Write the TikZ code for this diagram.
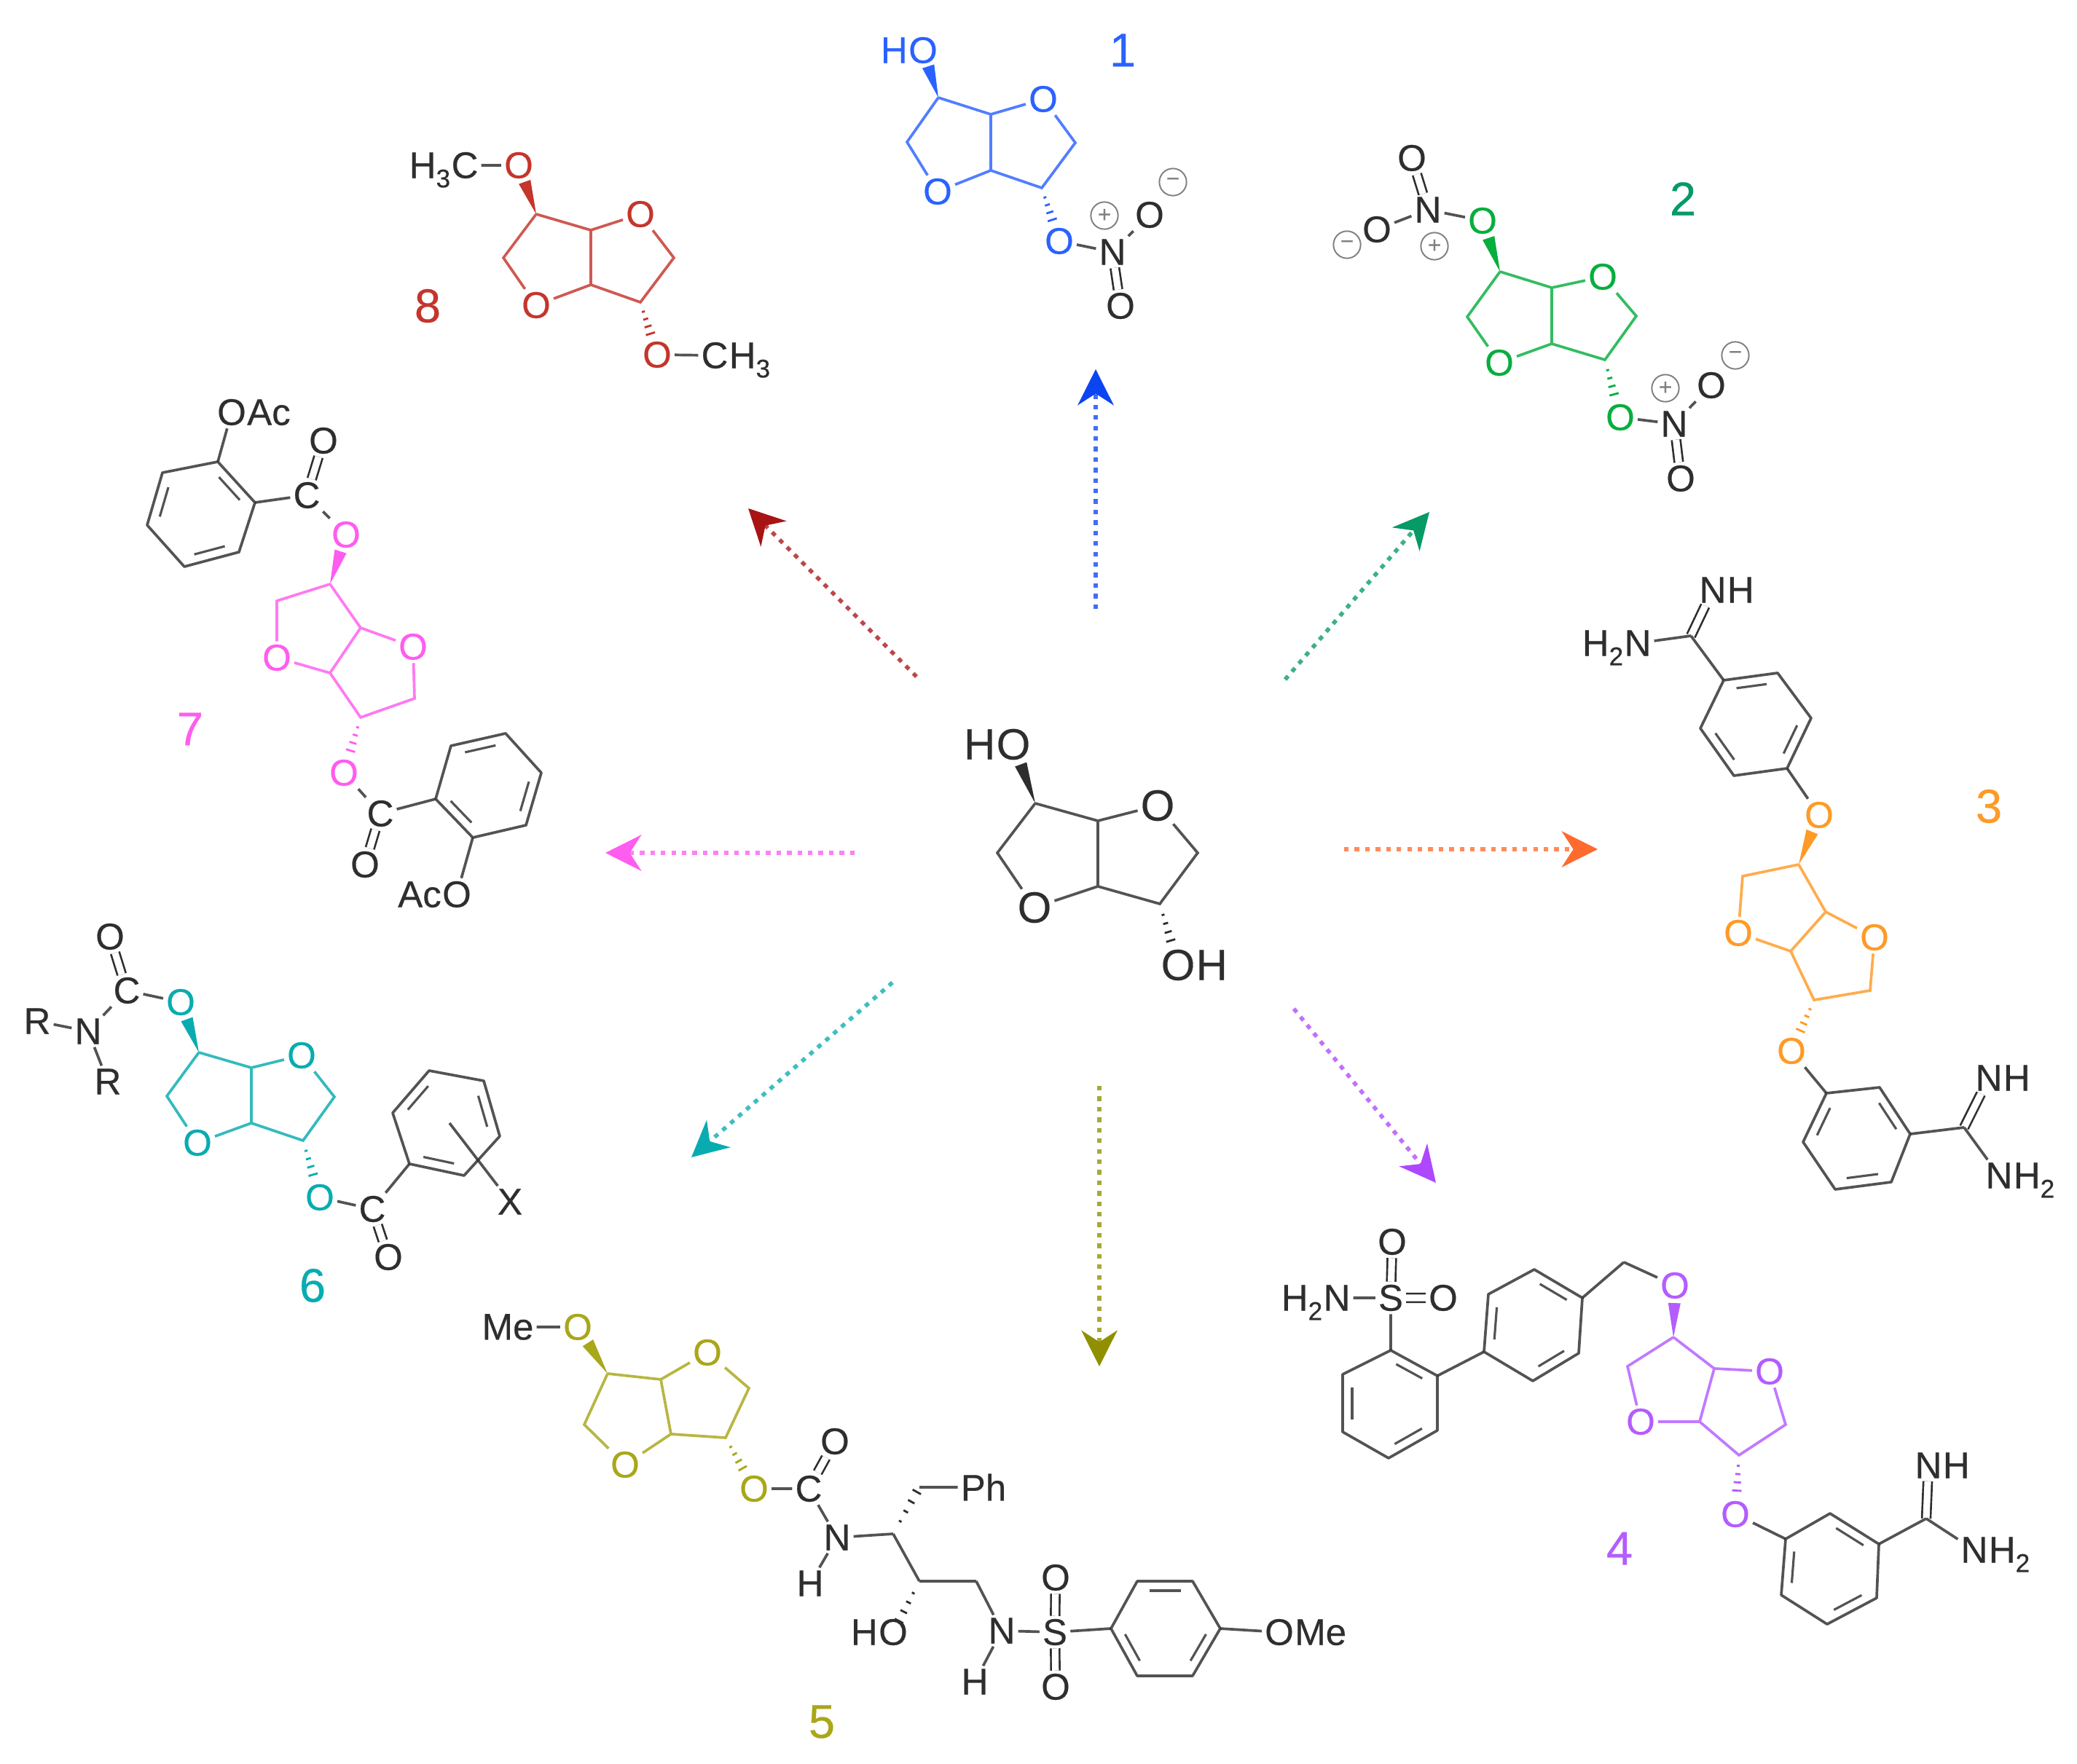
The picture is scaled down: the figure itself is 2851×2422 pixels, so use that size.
\documentclass[tikz,border=0pt]{standalone}
\usepackage{fontspec}
\setmainfont{Liberation Sans}[FakeBold=0.35]
\usetikzlibrary{calc,arrows.meta}
\definecolor{bk}{HTML}{2E2E2E}
\definecolor{mblue}{HTML}{2A62FF}
\definecolor{ablue}{HTML}{0B45F0}
\definecolor{mgreen}{HTML}{08AE3E}
\definecolor{agreen}{HTML}{069A66}
\definecolor{morange}{HTML}{FF9A26}
\definecolor{aorange}{HTML}{FF6A2E}
\definecolor{mpurple}{HTML}{B45CFF}
\definecolor{apurple}{HTML}{AE48FF}
\definecolor{molive}{HTML}{A9A71A}
\definecolor{aolive}{HTML}{8F8F00}
\definecolor{mteal}{HTML}{08ACB0}
\definecolor{mmag}{HTML}{FF5CF0}
\definecolor{mred}{HTML}{C4352C}
\definecolor{ared}{HTML}{A81414}
\newcommand{\afont}{\fontsize{14.5}{14.5}\selectfont}
\newcommand{\chsub}[1]{\raisebox{-.25em}{\fontsize{10}{10}\selectfont #1}}
\tikzset{
 atom/.style={inner sep=1pt,font=\afont},
 tail/.style={inner sep=0pt,anchor=base west,font=\afont,xshift=-1pt},
 head/.style={inner sep=0pt,anchor=base east,font=\afont,xshift=1pt},
 bond/.style={line width=1.05pt,draw opacity=.82},
 dbl/.style={double=white,double distance=2.6pt,line width=.75pt},
 num/.style={inner sep=0pt,font=\fontsize{18.5}{18.5}\selectfont},
 chg/.style={circle,draw=gray,line width=.55pt,text=gray,minimum size=10.6pt,inner sep=0pt,font=\fontsize{9}{9}\selectfont},
 arr/.style={line width=1.6pt,draw=#1!78,dash pattern=on 1.8pt off 2.3pt,-{Stealth[length=14pt,width=14pt,inset=4.5pt,color=#1]}},
}
\newcommand{\Ring}[9]{%
 \coordinate (#1a) at (#2); \coordinate (#1b) at (#3);
 \node[atom] (#1O) at (#4) {O};
 \coordinate (#1c) at (#5); \coordinate (#1d) at (#6); \coordinate (#1e) at (#7);
 \node[atom] (#1P) at (#8) {O};
 \coordinate (#1f) at (#9);
 \draw[bond] (#1a)--(#1b)--(#1O)--(#1c)--(#1d)--(#1e)--(#1P)--(#1f)--(#1a) (#1b)--(#1e);}
\newcommand{\Benz}[7]{%
 \coordinate (#11) at (#2); \coordinate (#12) at (#3); \coordinate (#13) at (#4);
 \coordinate (#14) at (#5); \coordinate (#15) at (#6); \coordinate (#16) at (#7);
 \coordinate (#1c) at ($(#11)!.5!(#14)$);
 \draw[bond,line join=round] (#11)--(#12)--(#13)--(#14)--(#15)--(#16)--cycle;}
\newcommand{\Inner}[3]{%
 \draw[bond,line width=.9pt] ($($(#1#2)!.15!(#1#3)$)!.2!(#1c)$) -- ($($(#1#2)!.85!(#1#3)$)!.2!(#1c)$);}
\newcommand{\Wedge}[3][.66]{%
 \coordinate (wtmp) at ($(#2)!#1!(#3)$);
 \fill (#2) -- ($(wtmp)!.085cm!90:(#3)$) -- ($(wtmp)!.085cm!-90:(#3)$) -- cycle;}
\newcommand{\Hash}[3][1]{%
 \foreach \f/\w in {.18/.02,.32/.035,.46/.05,.6/.065}{%
  \pgfmathsetmacro\ff{\f*#1}%
  \draw[line width=.8pt] ($($(#2)!\ff!(#3)$)!\w cm!90:(#3)$) -- ($($(#2)!\ff!(#3)$)!\w cm!-90:(#3)$);}}
\begin{document}
\begin{tikzpicture}[x=.01cm,y=-.01cm,color=bk]
\useasboundingbox (0,0) rectangle (2851,2422);
\fill[white] (0,0) rectangle (2851,2422);

% ---- centre
\begin{scope}
\renewcommand{\afont}{\fontsize{17}{17}\selectfont}
\Ring{z}{1421,1103}{1507,1127}{1589,1106}{1644,1171}{1592,1241}{1507,1217}{1420,1246}{1369,1171}
\node[atom] (zA) at (1391,1022) {O}; \node[head] (zH) at (zA.base west) {H};
\node[atom] (zB) at (1617,1325) {O}; \node[tail] (zI) at (zB.base east) {H};
\Wedge{za}{zA}
\Hash{zd}{zB}
\end{scope}

% ---- arrows
\coordinate (s1) at (1504,836); \coordinate (t1) at (1504,507);
\coordinate (s2) at (1764,933); \coordinate (t2) at (1962,703);
\coordinate (s3) at (1845,1166); \coordinate (t3) at (2193,1166);
\coordinate (s4) at (1776,1385); \coordinate (t4) at (1971,1624);
\coordinate (s5) at (1509,1491); \coordinate (t5) at (1509,1876);
\coordinate (s6) at (1225,1349); \coordinate (t6) at (949,1589);
\coordinate (s7) at (1173,1171); \coordinate (t7) at (831,1171);
\coordinate (s8) at (1258,929); \coordinate (t8) at (1027,698);
\draw[arr=ablue] (s1)--(t1);
\draw[arr=agreen] (s2)--(t2);
\draw[arr=aorange] (s3)--(t3);
\draw[arr=apurple] (s4)--(t4);
\draw[arr=aolive] (s5)--(t5);
\draw[arr=mteal] (s6)--(t6);
\draw[arr=mmag] (s7)--(t7);
\draw[arr=ared] (s8)--(t8);

% ---- 1
\begin{scope}[color=mblue]
\Ring{a}{1288,134}{1360,157}{1432,136}{1476,196}{1430,258}{1360,234}{1287,263}{1245,195}
\node[atom] (aA) at (1267,69) {O}; \node[head] (aH) at (aA.base west) {H};
\node[atom] (aB) at (1454,331) {O};
\Wedge{aa}{aA}
\Hash{ad}{aB}
\node[num] (l1) at (1541,69) {1};
\end{scope}
\node[atom] (aN) at (1527,346) {N};
\node[atom] (aC) at (1578,295) {O};
\node[atom] (aE) at (1538,420) {O};
\node[chg] (aM) at (1610,250) {−};
\node[chg] (aQ) at (1516,296) {+};
\draw[bond] (aB)--(aN) (aN)--(aC);
\draw[dbl] (aN)--(aE);

% ---- 2
\begin{scope}[color=mgreen]
\Ring{b}{2059,373}{2130,395}{2200,380}{2246,434}{2203,494}{2130,472}{2058,498}{2014,435}
\node[atom] (bA) at (2035,303) {O};
\node[atom] (bB) at (2224,573) {O};
\Wedge{ba}{bA}
\Hash{bd}{bB}
\end{scope}
\node[num,text=agreen] (l2) at (2310,273) {2};
\node[atom] (bN) at (1960,288) {N};
\node[atom] (bC) at (1890,315) {O};
\node[atom] (bE) at (1938,217) {O};
\node[chg] (bM) at (1849,336) {−};
\node[chg] (bQ) at (1969,338) {+};
\draw[bond] (bA)--(bN) (bN)--(bC);
\draw[dbl] (bN)--(bE);
\node[atom] (bR) at (2298,582) {N};
\node[atom] (bS) at (2349,529) {O};
\node[atom] (bT) at (2307,657) {O};
\node[chg] (bU) at (2382,488) {−};
\node[chg] (bV) at (2286,533) {+};
\draw[bond] (bB)--(bR) (bR)--(bS);
\draw[dbl] (bR)--(bT);

% ---- 3
\begin{scope}[color=morange]
\Ring{c}{2469,1187}{2506,1252}{2573,1287}{2567,1360}{2490,1373}{2458,1306}{2386,1281}{2392,1203}
\node[atom] (cA) at (2497,1119) {O};
\node[atom] (cB) at (2459,1443) {O};
\Wedge{ca}{cA}
\Hash{cd}{cB}
\node[num] (l3) at (2730,1107) {3};
\end{scope}
\Benz{cu}{2366,934}{2440,924}{2486,986}{2453,1055}{2380,1065}{2334,1000}
\Inner{cu}{1}{2}\Inner{cu}{3}{4}\Inner{cu}{5}{6}
\Benz{cv}{2507,1501}{2580,1493}{2622,1557}{2596,1623}{2519,1633}{2475,1568}
\Inner{cv}{6}{1}\Inner{cv}{2}{3}\Inner{cv}{4}{5}
\coordinate (cK) at (2321,873);
\node[atom] (cN) at (2351,810) {N}; \node[tail] (cH) at (cN.base east) {H};
\node[atom] (cM) at (2248,883) {N}; \node[head] (cG) at (cM.base west) {H\chsub{2}};
\draw[dbl] (cK)--(cN);
\draw[bond] (cM)--(cK) (cK)--(cu1) (cu4)--(cA) (cB)--(cv1);
\coordinate (cL) at (2696,1548);
\node[atom] (cP) at (2730,1480) {N}; \node[tail] (cI) at (cP.base east) {H};
\node[atom] (cQ) at (2744,1614) {N}; \node[tail] (cJ) at (cQ.base east) {H\chsub{2}};
\draw[dbl] (cL)--(cP);
\draw[bond] (cv3)--(cL) (cL)--(cQ);

% ---- 4
\begin{scope}[color=mpurple]
\Ring{d}{2297,1836}{2353,1879}{2429,1883}{2451,1956}{2387,1998}{2333,1952}{2252,1952}{2234,1876}
\node[atom] (dA) at (2299,1765) {O};
\node[atom] (dB) at (2382,2079) {O};
\Wedge{da}{dA}
\Hash{dd}{dB}
\node[num] (l4) at (2223,2126) {4};
\end{scope}
\Benz{dp}{1909,1854}{1973,1889}{1973,1964}{1906,2002}{1843,1966}{1843,1887}
\Inner{dp}{1}{2}\Inner{dp}{3}{4}\Inner{dp}{5}{6}
\Benz{dq}{2037,1856}{2043,1777}{2106,1743}{2172,1782}{2167,1858}{2104,1896}
\Inner{dq}{1}{2}\Inner{dq}{3}{4}\Inner{dq}{5}{6}
\Benz{dr}{2451,2113}{2512,2078}{2579,2120}{2576,2194}{2508,2230}{2445,2190}
\Inner{dr}{6}{1}\Inner{dr}{2}{3}\Inner{dr}{4}{5}
\node[atom] (dS) at (1909,1782) {S};
\node[atom] (dT) at (1911,1705) {O};
\node[atom] (dU) at (1981,1782) {O};
\node[atom] (dN) at (1835,1782) {N}; \node[head] (dG) at (dN.base west) {H\chsub{2}};
\coordinate (dK) at (2229,1733);
\coordinate (dL) at (2644,2085);
\node[atom] (dP) at (2647,2012) {N}; \node[tail] (dI) at (dP.base east) {H};
\node[atom] (dQ) at (2710,2128) {N}; \node[tail] (dJ) at (dQ.base east) {H\chsub{2}};
\draw[dbl] (dS)--(dT) (dS)--(dU) (dL)--(dP);
\draw[bond] (dN)--(dS) (dS)--(dp1) (dp2)--(dq1) (dq4)--(dK) (dK)--(dA) (dB)--(dr1) (dr3)--(dL) (dL)--(dQ);

% ---- 5
\begin{scope}[color=molive]
\Ring{e}{834,1886}{907,1894}{971,1857}{1028,1906}{996,1974}{921,1969}{858,2011}{802,1956}
\node[atom] (eA) at (793,1822) {O};
\node[atom] (eB) at (1035,2044) {O};
\Wedge{ea}{eA}
\Hash{ed}{eB}
\node[num] (l5) at (1128,2364) {5};
\end{scope}
\node[atom] (eM) at (697,1822) {Me};
\node[atom] (eC) at (1110,2044) {C};
\node[atom] (eE) at (1146,1979) {O};
\node[atom] (eN) at (1149,2111) {N};
\node[atom] (eH) at (1112,2174) {H};
\coordinate (eK) at (1226,2106);
\coordinate (eL) at (1262,2042);
\node[atom] (eF) at (1350,2042) {Ph};
\coordinate (eQ) at (1262,2171);
\coordinate (eR) at (1340,2171);
\node[atom] (eT) at (1226,2241) {O}; \node[head] (eI) at (eT.base west) {H};
\node[atom] (eU) at (1375,2239) {N};
\node[atom] (eV) at (1338,2309) {H};
\node[atom] (eS) at (1448,2241) {S};
\node[atom] (eW) at (1449,2166) {O};
\node[atom] (eX) at (1449,2316) {O};
\Benz{ep}{1525,2236}{1561,2171}{1637,2171}{1675,2236}{1637,2301}{1561,2301}
\Inner{ep}{2}{3}\Inner{ep}{4}{5}\Inner{ep}{6}{1}
\node[atom] (eY) at (1756,2241) {O}; \node[tail] (eZ) at (eY.base east) {Me};
\draw[dbl] (eC)--(eE) (eS)--(eW) (eS)--(eX);
\draw[bond] (eM)--(eA) (eB)--(eC) (eC)--(eN) (eN)--(eH) (eN)--(eK) (eK)--(eQ) (eQ)--(eR) (eR)--(eU) (eU)--(eV) (eU)--(eS) (eS)--(ep1) (ep4)--(eY) (eL)--(eF);
\Hash[1.5]{eK}{eL}
\Hash[1.3]{eQ}{eT}

% ---- 6
\begin{scope}[color=mteal]
\Ring{f}{273,1445}{345,1466}{414,1449}{459,1506}{416,1566}{345,1542}{271,1569}{229,1505}
\node[atom] (fA) at (248,1376) {O};
\node[atom] (fB) at (439,1644) {O};
\Wedge{fa}{fA}
\Hash{fd}{fB}
\node[num] (l6) at (429,1765) {6};
\end{scope}
\node[atom] (fC) at (174,1360) {C};
\node[atom] (fE) at (151,1286) {O};
\node[atom] (fN) at (121,1416) {N};
\node[atom] (fR) at (51,1402) {R};
\node[atom] (fS) at (148,1485) {R};
\node[atom] (fT) at (511,1660) {C};
\node[atom] (fU) at (533,1726) {O};
\node[atom] (fX) at (700,1650) {X};
\coordinate (fY) at (617,1542);
\Benz{fp}{562,1598}{539,1528}{589,1470}{664,1484}{686,1560}{637,1614}
\Inner{fp}{2}{3}\Inner{fp}{4}{5}\Inner{fp}{6}{1}
\draw[dbl] (fC)--(fE) (fT)--(fU);
\draw[bond] (fA)--(fC) (fC)--(fN) (fN)--(fR) (fN)--(fS) (fB)--(fT) (fT)--(fp1) (fY)--(fX);

% ---- 7
\begin{scope}[color=mmag]
\Ring{g}{453,802}{495,862}{567,888}{569,959}{495,985}{453,924}{380,903}{380,825}
\node[atom] (gA) at (475,734) {O};
\node[atom] (gB) at (472,1061) {O};
\Wedge{ga}{gA}
\Hash{gd}{gB}
\node[num] (l7) at (261,1001) {7};
\end{scope}
\Benz{gp}{299,634}{350,690}{328,758}{253,778}{202,721}{223,649}
\Inner{gp}{1}{2}\Inner{gp}{3}{4}\Inner{gp}{5}{6}
\Benz{gq}{598,1097}{619,1024}{694,1007}{743,1061}{722,1133}{649,1150}
\Inner{gq}{6}{1}\Inner{gq}{2}{3}\Inner{gq}{4}{5}
\node[atom] (gC) at (421,680) {C};
\node[atom] (gE) at (444,605) {O};
\node[atom] (gO) at (318,566) {O}; \node[tail] (gH) at (gO.base east) {Ac};
\node[atom] (gT) at (522,1117) {C};
\node[atom] (gU) at (501,1187) {O};
\node[atom] (gV) at (627,1228) {O}; \node[head] (gI) at (gV.base west) {Ac};
\draw[dbl] (gC)--(gE) (gT)--(gU);
\draw[bond] (gp1)--(gO) (gp2)--(gC) (gC)--(gA) (gB)--(gT) (gT)--(gq1) (gq6)--(gV);

% ---- 8
\begin{scope}[color=mred]
\Ring{h}{736,294}{811,316}{879,294}{925,354}{879,415}{811,391}{736,419}{691,354}
\node[atom] (hA) at (712,227) {O};
\node[atom] (hB) at (902,487) {O};
\Wedge{ha}{hA}
\Hash{hd}{hB}
\node[num] (l8) at (587,420) {8};
\end{scope}
\node[atom] (hC) at (638,227) {C}; \node[head] (hG) at (hC.base west) {H\chsub{3}};
\node[atom] (hD) at (981,488) {C}; \node[tail] (hI) at (hD.base east) {H\chsub{3}};
\draw[bond] (hC)--(hA) (hB)--(hD);
\end{tikzpicture}
\end{document}
